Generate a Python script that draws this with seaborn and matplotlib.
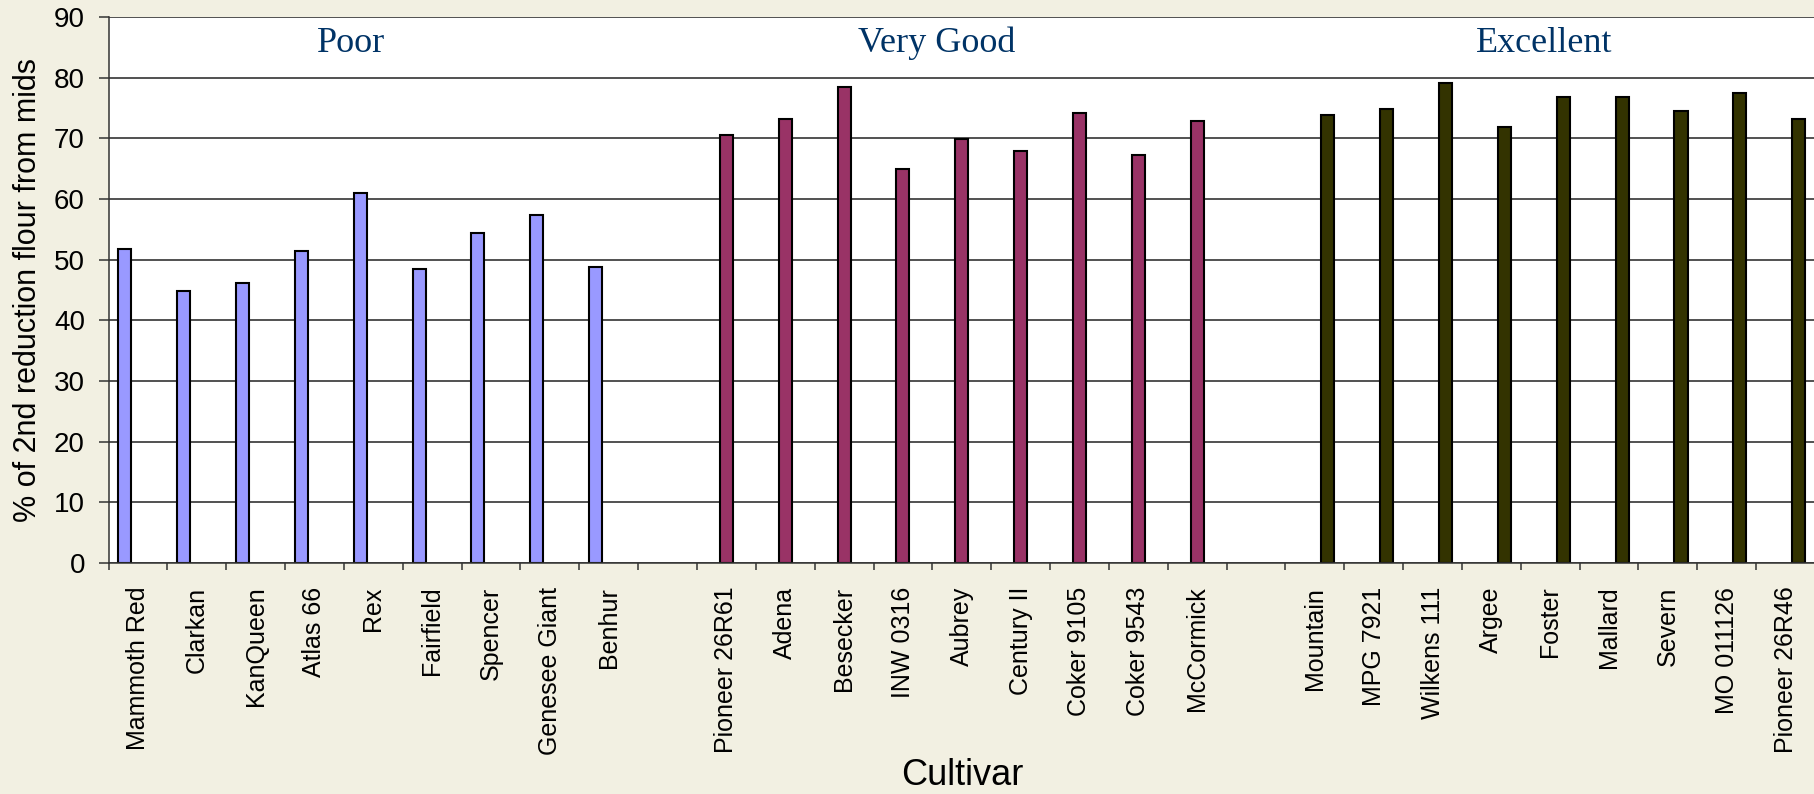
import matplotlib
matplotlib.use("Agg")
import matplotlib.pyplot as plt
import numpy as np
import pandas as pd
import seaborn as sns

# Cultivars grouped by quality class, with the % of 2nd reduction flour.
poor = ["Mammoth Red", "Clarkan", "KanQueen", "Atlas 66", "Rex",
        "Fairfield", "Spencer", "Genesee Giant", "Benhur"]
poor_vals = [51.8, 44.8, 46.1, 51.4, 61.0, 48.5, 54.4, 57.4, 48.8]

very_good = ["Pioneer 26R61", "Adena", "Besecker", "INW 0316", "Aubrey",
             "Century II", "Coker 9105", "Coker 9543", "McCormick"]
very_good_vals = [70.5, 73.2, 78.5, 64.9, 69.9, 67.9, 74.2, 67.2, 72.9]

excellent = ["Mountain", "MPG 7921", "Wilkens 111", "Argee", "Foster",
             "Mallard", "Severn", "MO 011126", "Pioneer 26R46"]
excellent_vals = [73.8, 74.9, 79.1, 71.9, 76.8, 76.8, 74.5, 77.5, 73.2]

groups = ["Poor", "Very Good", "Excellent"]
colors = ["#9999FF", "#993366", "#333300"]

# Empty slots between the groups, like the spreadsheet had.
order = poor + [" "] + very_good + ["  "] + excellent

data = pd.concat([
    pd.DataFrame({"Cultivar": poor, "Group": "Poor", "Value": poor_vals}),
    pd.DataFrame({"Cultivar": very_good, "Group": "Very Good", "Value": very_good_vals}),
    pd.DataFrame({"Cultivar": excellent, "Group": "Excellent", "Value": excellent_vals}),
], ignore_index=True)

bg = "#F2F0E2"
sns.set_style("white", {"text.color": "black", "axes.labelcolor": "black",
                        "xtick.color": "black", "ytick.color": "black"})
plt.rcParams["font.family"] = ["Liberation Sans", "DejaVu Sans"]

fig = plt.figure(figsize=(18.15, 7.94), dpi=100, facecolor=bg)
ax = fig.add_axes([0.0598, 0.2909, 0.9402, 0.6877])
ax.set_facecolor("white")

sns.barplot(
    data=data, x="Cultivar", y="Value", hue="Group",
    order=order, hue_order=groups, palette=colors, saturation=1,
    width=0.667, gap=0, dodge=True, errorbar=None,
    edgecolor="black", linewidth=1.5, legend=False, ax=ax
)

ax.set_ylim(0, 90)
ax.set_yticks(np.arange(0, 91, 10))
ax.set_xlim(-0.5, 28.47)
ax.yaxis.grid(True, color="#222222", linewidth=1.1)
ax.set_axisbelow(True)

for side in ["top", "right"]:
    ax.spines[side].set_visible(False)
ax.spines["left"].set_color("#333333")
ax.spines["bottom"].set_color("#333333")
ax.spines["left"].set_linewidth(1.1)
ax.spines["bottom"].set_linewidth(1.1)

# Labels at slot centres, tick marks at slot boundaries.
ax.set_xticks(range(len(order)))
ax.set_xticklabels(order, rotation=90, fontsize=18)
ax.set_xticks(np.arange(-0.5, len(order), 1.0), minor=True)
ax.tick_params(axis="x", which="major", length=0, pad=17)
ax.tick_params(axis="x", which="minor", length=5, width=1.1,
               color="#333333", direction="out", bottom=True)
ax.tick_params(axis="y", length=7, width=1.1, color="#333333",
               direction="out", left=True, labelsize=20, labelcolor="black", pad=10)

ax.set_ylabel("% of 2nd reduction flour from mids", fontsize=22, labelpad=8)
ax.set_xlabel("Cultivar", fontsize=26)
ax.xaxis.set_label_coords((962 - 108.5) / (1815 * 0.9402), -(775 - 563) / (794 * 0.6877))
ax.xaxis.label.set_va("center")

# Group names over the bars.
for name, xpos in zip(groups, [3.63, 13.57, 23.89]):
    ax.text(xpos, 85.7, name, ha="center", va="center", fontsize=26,
            color="#003366", family=["Liberation Serif", "DejaVu Serif"])

fig.savefig("out.png", dpi=100, facecolor=bg)
